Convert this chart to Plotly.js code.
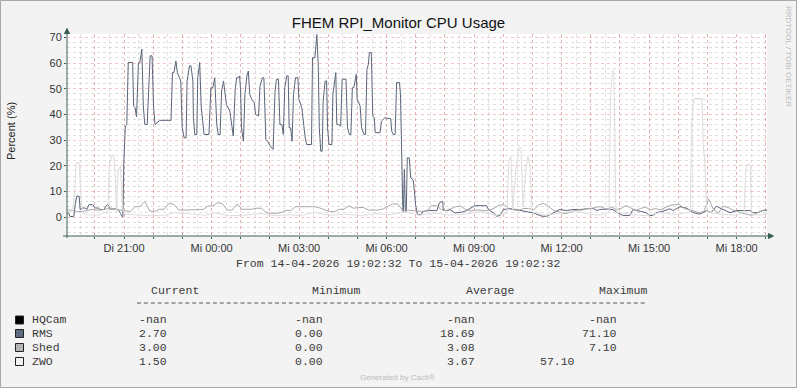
<!DOCTYPE html>
<html><head><meta charset="utf-8">
<script src="https://cdn.plot.ly/plotly-3.0.1.min.js"></script>
<style>html,body{margin:0;padding:0;background:#F3F3F3;}#chart{width:797px;height:388px;}</style>
</head><body><div id="chart"></div>
<script>
// ---------------- data ----------------
const startUTC = Date.UTC(2026, 3, 14, 19, 2, 32);   // 14-04-2026 19:02:32
const spanMinutes = 1440;                            // to 15-04-2026 19:02:32
const chartTitle = 'FHEM RPI_Monitor CPU Usage';
const yTitle = 'Percent (%)';
const seriesNames = ['HQCam', 'RMS', 'Shed', 'ZWO'];
const xTickLabels = ['Di 21:00', 'Mi 00:00', 'Mi 03:00', 'Mi 06:00', 'Mi 09:00', 'Mi 12:00', 'Mi 15:00', 'Mi 18:00'];

// RMS: minutes after start, value (%)
const rmsMinutes = [
  0,4,6,14,17,20,25,27,31,37,
  41,45,53,58,64,68,76,80,84,88,
  103,107,110,113,115,117,120,123,126,135,
  137,140,143,147,150,154,157,160,165,168,
  171,175,178,181,185,191,214,217,220,224,
  227,230,234,237,241,245,247,252,255,259,
  260,263,267,269,273,276,279,282,292,296,
  300,304,308,311,315,318,322,325,328,335,
  339,342,346,349,352,355,357,359,363,366,
  370,373,376,380,385,388,394,397,402,405,
  407,409,413,418,424,428,431,435,438,442,
  445,448,452,455,457,460,463,466,470,475,
  477,483,490,493,503,505,510,514,517,519,
  522,525,527,531,534,536,539,545,547,550,
  553,555,558,563,566,574,577,581,584,587,
  590,595,597,603,606,611,614,617,620,622,
  626,629,632,634,644,647,654,666,668,671,
  675,678,684,686,689,691,692,694,696,698,
  700,704,707,712,714,717,721,728,733,743,
  761,766,773,774,784,788,798,813,822,831,
  839,863,867,877,884,891,898,911,932,944,
  959,977,987,1000,1014,1027,1041,1055,1069,1082,
  1090,1096,1109,1123,1138,1144,1158,1164,1179,1191,
  1199,1205,1213,1226,1240,1247,1261,1275,1282,1288,
  1302,1316,1325,1336,1343,1357,1364,1378,1391,1405,
  1411,1421,1432,1440];
const rmsValues = [
  1.7,1.5,0.3,0.3,5,8.2,8.2,3,3.6,3.6,
  3,4.9,4.9,3.6,3.6,3,3,4.4,5,3.2,
  3.2,2.6,1.5,0.3,0.3,22,35.5,36,60.2,60.2,
  43.3,42.7,39,60.2,60.2,65.4,43.3,36.1,36.1,47.8,
  62.8,62.8,43.3,36.1,36.8,37.7,37.7,56.3,56.3,60.8,
  56.3,55,53,34.8,30.9,30.9,53,58.9,58.9,53,
  38.7,32.2,32.2,54.3,60.2,43.3,38.7,32.2,32.2,50.4,
  50.4,54.3,36.1,32.2,32.2,49.1,53,49.1,43.9,41.3,
  35,31.6,49.8,54.3,54.3,55,49.8,34.8,29.6,47.8,
  55,56.9,47.8,45.9,44.6,40,39.4,51,54.3,54.3,
  42.7,30.3,29.6,27.7,26.4,49.1,53.7,53.7,36.1,36.1,
  32.2,50.4,55,55,34.8,34.8,29.6,47.8,54.3,54.3,
  45.9,42.7,30.9,28.3,28.3,62.1,62.1,71.1,58.2,34.8,
  25.7,25.7,45.2,53,53,34.8,28.3,28.3,47.8,53,
  56.3,36.1,36.1,35.5,53.7,53.7,34.8,32.2,32.2,50.4,
  50.4,55.6,45.9,43.3,34.8,32.2,32.2,57.6,59.5,64.1,
  64.1,39.4,38.7,32.9,32.9,37.4,38.7,38.3,33.5,32.2,
  32.2,52.4,52.4,47.8,14,2.3,2.3,18.6,2.3,2.3,
  23.1,23.1,15.3,14.6,11.4,4.9,1,1,2.3,2.6,
  2.6,5.6,6.2,2.6,2.6,3,1.7,2,2.6,3.6,
  4.5,4.5,3,1.7,0.4,0.7,3,3.4,2.7,2.3,
  1.7,0.4,0.4,1.7,3,2.6,3,3,3.4,3.5,
  2.6,3,3.2,3,1.2,0.7,0.7,3,2.3,1.8,
  0.7,0.7,1.8,2.3,3.3,2.6,4.1,3.5,2.6,1.8,
  1.2,2.6,1.8,4.3,3.6,2.3,1.8,2.6,2.6,2.6,
  1.8,1.8,2.6,2.7];

// Shed: one sample every 10 minutes from the start
const shedStepMinutes = 10;
const shedValues = [
  2.8,2.8,2.2,2.2,2.5,3.0,2.8,2.8,3.2,3.6,
  3.0,2.8,2.5,2.2,4.1,4.1,6.1,2.5,2.2,3.1,
  3.1,5.4,5.0,2.8,2.8,2.8,2.8,2.8,3.0,4.4,
  4.4,5.7,5.2,2.8,2.8,5.2,3.1,3.1,3.1,3.5,
  3.5,1.8,1.5,1.5,1.8,2.6,2.6,4.1,4.1,4.1,
  4.1,4.1,3.6,2.8,2.2,2.2,3.1,3.1,4.4,3.5,
  3.8,3.8,2.8,2.8,2.8,3.2,4.1,5.2,5.2,2.8,
  2.8,2.6,2.2,2.2,2.4,4.5,4.5,3.0,2.6,3.2,
  4.1,4.3,3.0,2.4,2.8,2.8,2.5,2.8,3.6,4.8,
  4.8,3.2,2.8,2.8,3.4,3.4,2.8,4.8,5.4,4.2,
  2.8,2.2,1.5,1.5,2.4,2.8,2.8,3.4,3.4,4.0,
  4.0,3.0,4.0,3.0,3.4,4.6,3.6,2.6,3.4,4.0,
  2.8,3.4,2.8,3.6,4.6,4.9,4.9,3.4,2.8,2.2,
  1.8,2.2,7.1,3.0,1.6,4.3,3.8,2.8,2.2,1.6,
  1.0,0.8,1.6,2.6,3.0];

// ZWO: minutes after start, value (%)
const zwoMinutes = [
  0,8,12,15,19,25,29,32,41,68,
  76,84,87,92,96,99,102,105,110,114,
  119,150,171,202,222,253,284,304,335,366,
  397,428,459,479,510,541,572,603,634,664,
  695,726,757,788,819,850,880,905,909,913,
  917,924,930,934,938,944,948,952,957,983,
  1014,1045,1076,1096,1115,1118,1122,1125,1129,1131,
  1158,1189,1220,1251,1282,1285,1290,1306,1309,1312,
  1316,1319,1343,1374,1393,1396,1399,1405,1408,1411,
  1426,1440];
const zwoValues = [
  2.8,2.0,3,8,21,21.2,8,1.5,0.9,0.9,
  2.0,1.5,20.5,23.8,24,16,2,18,20,4,
  1.2,1.0,0.6,0.8,1.8,1.2,0.8,1.6,0.6,0.8,
  1.4,0.6,1.0,0.6,1.8,0.8,1.2,0.6,1.4,1.0,
  2.0,0.8,1.6,0.8,1.2,2.2,0.8,1.5,22,23.8,
  3,20,27,27,4,18,23.8,20,2,0.8,
  1.6,2.4,1.2,0.8,2,46,57.1,57,5,2,
  1.2,0.6,1.8,1.0,2,36.8,46.2,46.2,27.7,21.8,
  4,2,1.2,0.8,2,18,20.5,20.5,3,1,
  0.8,1.5];

// legend table text
const legendHeaders = ['Current', 'Minimum', 'Average', 'Maximum'];
const curVals = ['-nan', '2.70', '3.00', '1.50'];
const minVals = ['-nan', '0.00', '0.00', '0.00'];
const avgVals = ['-nan', '18.69', '3.08', '3.67'];
const maxVals = ['-nan', '71.10', '7.10', '57.10'];
const periodText = 'From 14-04-2026 19:02:32 To 15-04-2026 19:02:32';
const footerText = 'Generated by Cacti®';
const sideText = 'RRDTOOL / TOBI OETIKER';

// ---------------- styling ----------------
const seriesColors = ['#000000', '#5B6579', '#A9A9A9', '#DDDDDD'];
const boxColors = ['#000000', '#5F6B80', '#B4B4B4', '#F2F2F2'];
const axisColor = '#3A6152';
const majorGrid = 'rgba(230,120,120,0.42)';
const minorGrid = 'rgba(170,170,170,0.38)';
const sans = 'Liberation Sans, Arial, sans-serif';
const mono = 'Liberation Mono, Courier New, monospace';
const legendTextColor = '#3A3A3A';

const ML = 67, MT = 34, PW = 700, PH = 202;
const fx = p => (p - ML) / PW;
const fy = p => (MT + PH - p) / PH;
const iso = ms => new Date(ms).toISOString().replace('T', ' ').replace('Z', '');
const atMin = m => iso(startUTC + m * 60000);

// ---------------- traces ----------------
const shedMinutes = shedValues.map((_, i) => i * shedStepMinutes);
const traces = [
  {name: seriesNames[0], x: [], y: [], mode: 'lines', line: {color: seriesColors[0], width: 1}},
  {name: seriesNames[1], x: rmsMinutes.map(atMin), y: rmsValues, mode: 'lines', line: {color: seriesColors[1], width: 1}},
  {name: seriesNames[2], x: shedMinutes.map(atMin), y: shedValues, mode: 'lines', line: {color: seriesColors[2], width: 1}},
  {name: seriesNames[3], x: zwoMinutes.map(atMin), y: zwoValues, mode: 'lines', line: {color: seriesColors[3], width: 1}}
];

// hourly ticks, labelled every 3 hours
const firstHour = Date.UTC(2026, 3, 14, 20, 0, 0);
const tickVals = [], tickText = [];
for (let k = 0; k < 24; k++) {
  tickVals.push(iso(firstHour + k * 3600000));
  tickText.push(k >= 1 && (k - 1) % 3 === 0 ? xTickLabels[(k - 1) / 3] : '');
}

// ---------------- annotations ----------------
const ann = [];
const txt = (text, x, y, opt) => ann.push(Object.assign({
  text, x: fx(x), y: fy(y), xref: 'paper', yref: 'paper', showarrow: false,
  xanchor: 'left', yanchor: 'middle', font: {family: mono, size: 11.5, color: legendTextColor}
}, opt || {}));

txt(yTitle, 11, 131, {xanchor: 'center', textangle: -90, font: {family: sans, size: 11, color: '#222'}});
txt(sideText, 789, 56, {xanchor: 'center', textangle: 90, font: {family: sans, size: 8, color: '#BDBDBD'}});
txt(periodText, 398, 263.5, {xanchor: 'center'});
txt(footerText, 397, 377, {xanchor: 'center', font: {family: sans, size: 8, color: '#BBBBBB'}});

const headerX = [149, 310, 464, 597];
legendHeaders.forEach((h, i) => txt(h, headerX[i], 290.5));

const rowY = [319.5, 333, 347, 361];
const shapes = [];
// dashed separator under the header
shapes.push({type: 'line', xref: 'paper', yref: 'paper', x0: fx(137), x1: fx(646), y0: fy(303), y1: fy(303),
  line: {color: '#555', width: 1, dash: '4px,2.9px'}});

seriesNames.forEach((n, i) => {
  const y = rowY[i];
  txt(n, 30, y);
  txt(curVals[i], 137, y);
  txt(minVals[i], 292.5, y);
  txt(avgVals[i], 477, y, {xanchor: 'right'});
  txt(maxVals[i], i === 3 ? 577 : 619, y, {xanchor: 'right'});
  shapes.push({type: 'rect', xref: 'paper', yref: 'paper',
    x0: fx(15.5), x1: fx(23.5), y0: fy(y + 4.5), y1: fy(y - 3.5),
    fillcolor: boxColors[i], line: {color: '#222', width: 1}});
});

// axes lines and arrows
shapes.push({type: 'line', xref: 'paper', yref: 'paper', x0: 0, x1: 0, y0: fy(238), y1: fy(31), line: {color: axisColor, width: 1}});
shapes.push({type: 'line', xref: 'paper', yref: 'paper', x0: fx(63), x1: fx(770), y0: 0, y1: 0, line: {color: axisColor, width: 1}});
shapes.push({type: 'path', xref: 'paper', yref: 'paper',
  path: `M ${fx(64.5)} ${fy(33.5)} L ${fx(69.5)} ${fy(33.5)} L ${fx(67)} ${fy(28.5)} Z`,
  fillcolor: axisColor, line: {color: axisColor, width: 1}});
shapes.push({type: 'path', xref: 'paper', yref: 'paper',
  path: `M ${fx(768.5)} ${fy(233.5)} L ${fx(768.5)} ${fy(238.5)} L ${fx(773.5)} ${fy(236)} Z`,
  fillcolor: axisColor, line: {color: axisColor, width: 1}});
// outer frame
shapes.push({type: 'rect', xref: 'paper', yref: 'paper',
  x0: fx(0.5), x1: fx(796.5), y0: fy(387.5), y1: fy(0.5),
  line: {color: '#A8A8A8', width: 1}, fillcolor: 'rgba(0,0,0,0)'});

const layout = {
  width: 797, height: 388,
  margin: {l: ML, r: 797 - ML - PW, t: MT, b: 388 - MT - PH, pad: 0},
  paper_bgcolor: '#F3F3F3', plot_bgcolor: '#FFFFFF',
  showlegend: false,
  font: {family: sans, size: 11, color: '#333'},
  title: {text: chartTitle, font: {family: sans, size: 15, color: '#111'},
    x: 0.5, xref: 'container', xanchor: 'center', y: 1 - 23 / 388, yref: 'container', yanchor: 'middle'},
  xaxis: {
    type: 'date', range: [iso(startUTC), iso(startUTC + spanMinutes * 60000)],
    tickmode: 'array', tickvals: tickVals, ticktext: tickText,
    showgrid: true, gridcolor: majorGrid, griddash: 'dot', gridwidth: 1,
    minor: {tickmode: 'linear', tick0: iso(Date.UTC(2026, 3, 14, 19, 30, 0)), dtick: 1800000,
      showgrid: true, gridcolor: minorGrid, griddash: 'dot', gridwidth: 1, ticks: ''},
    ticks: 'outside', ticklen: 2, tickcolor: axisColor,
    showline: false, zeroline: false, fixedrange: true,
    tickfont: {family: sans, size: 11, color: '#333'}
  },
  yaxis: {
    range: [-7.3, 71.3], tickmode: 'linear', tick0: 0, dtick: 10,
    showgrid: true, gridcolor: majorGrid, griddash: 'dot', gridwidth: 1,
    minor: {tickmode: 'linear', tick0: 0, dtick: 2, showgrid: true, gridcolor: minorGrid, griddash: 'dot', gridwidth: 1, ticks: ''},
    ticks: 'outside', ticklen: 2, tickcolor: axisColor,
    showline: false, zeroline: false, fixedrange: true,
    tickfont: {family: sans, size: 11, color: '#333'}
  },
  annotations: ann,
  shapes: shapes
};

Plotly.newPlot('chart', traces, layout, {staticPlot: true, displayModeBar: false});
</script>
</body></html>
